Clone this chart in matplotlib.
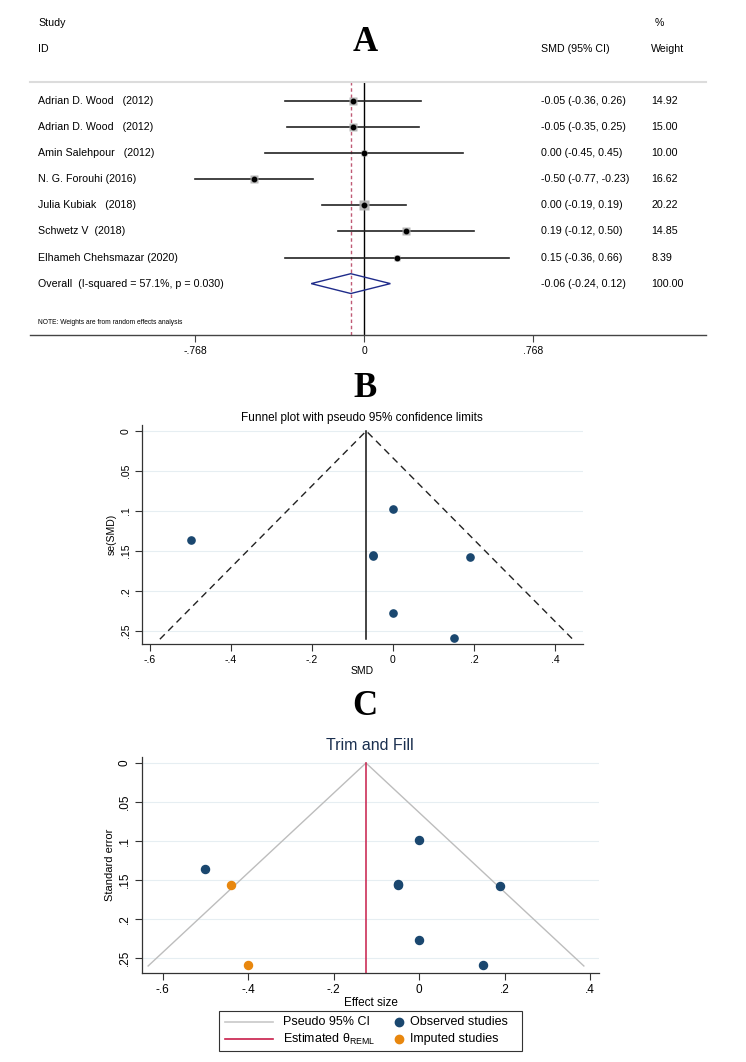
import matplotlib
matplotlib.use("Agg")
import matplotlib.pyplot as plt
import matplotlib.transforms as mtransforms
from matplotlib.lines import Line2D
from matplotlib.patches import Polygon, Rectangle

W, H = 746, 1062
plt.rcParams['font.family'] = ['Liberation Sans', 'DejaVu Sans']
plt.rcParams['mathtext.fontset'] = 'custom'
plt.rcParams['mathtext.rm'] = 'Liberation Sans'

# ---------------- data ----------------
studies = ["Adrian D. Wood   (2012)", "Adrian D. Wood   (2012)", "Amin Salehpour   (2012)",
           "N. G. Forouhi (2016)", "Julia Kubiak   (2018)", "Schwetz V  (2018)",
           "Elhameh Chehsmazar (2020)"]
smd = [-0.05, -0.05, 0.00, -0.50, 0.00, 0.19, 0.15]
ci_low = [-0.36, -0.35, -0.45, -0.77, -0.19, -0.12, -0.36]
ci_high = [0.26, 0.25, 0.45, -0.23, 0.19, 0.50, 0.66]
ci_text = ["-0.05 (-0.36, 0.26)", "-0.05 (-0.35, 0.25)", "0.00 (-0.45, 0.45)",
           "-0.50 (-0.77, -0.23)", "0.00 (-0.19, 0.19)", "0.19 (-0.12, 0.50)",
           "0.15 (-0.36, 0.66)"]
weights = [14.92, 15.00, 10.00, 16.62, 20.22, 14.85, 8.39]
weight_text = ["14.92", "15.00", "10.00", "16.62", "20.22", "14.85", "8.39"]
overall_est, overall_low, overall_high = -0.06, -0.24, 0.12
overall_label = "Overall  (I-squared = 57.1%, p = 0.030)"
overall_ci_text = "-0.06 (-0.24, 0.12)"
overall_weight_text = "100.00"
forest_ticks = [-0.768, 0.0, 0.768]
forest_ticklabels = ["-.768", "0", ".768"]

funnel_x = [-0.05, -0.05, 0.00, -0.50, 0.00, 0.19, 0.15]
funnel_se = [0.156, 0.155, 0.227, 0.136, 0.098, 0.157, 0.259]
funnel_pooled = -0.066
funnel_se_max = 0.26

imputed_x = [-0.44, -0.40]
imputed_se = [0.156, 0.259]
trimfill_theta = -0.124

se_ticks = [0, 0.05, 0.1, 0.15, 0.2, 0.25]
se_ticklabels = ["0", ".05", ".1", ".15", ".2", ".25"]
x_ticks = [-0.6, -0.4, -0.2, 0, 0.2, 0.4]
x_ticklabels = ["-.6", "-.4", "-.2", "0", ".2", ".4"]

legend_labels = ["Pseudo 95% CI", "Estimated θ$_{\\mathrm{REML}}$", "Observed studies", "Imputed studies"]

NAVY = "#1a476f"
ORANGE = "#e8870e"
CRIMSON = "#c81e4a"


def rect(l, t, r, b):
    return [l / W, 1 - b / H, (r - l) / W, (b - t) / H]


fig = plt.figure(figsize=(W / 100, H / 100), dpi=100)

# ---------------- Panel A: forest plot ----------------
axA = fig.add_axes(rect(30, 82, 706, 335))
axA.set_xlim((30 - 364) / 220, (706 - 364) / 220)
axA.set_ylim(8.97, -0.728)
for s in ['left', 'right']:
    axA.spines[s].set_visible(False)
axA.spines['top'].set_color('#dcdcdc')
axA.spines['top'].set_linewidth(1.5)
axA.spines['bottom'].set_color('#444444')
axA.spines['bottom'].set_linewidth(1.0)
axA.set_yticks([])
axA.set_xticks(forest_ticks)
axA.set_xticklabels(forest_ticklabels)
axA.tick_params(axis='x', labelsize=7.5, length=5, width=0.8, color='#444444', pad=3)

axA.axvline(0, color='black', lw=1.0, zorder=1)
axA.axvline(overall_est, color='#c05a75', lw=1.0, ls=(0, (2.5, 2)), zorder=1)

rows = list(range(len(studies)))
for i in rows:
    axA.plot([ci_low[i], ci_high[i]], [i, i], color='#222222', lw=1.2, zorder=2)
    axA.plot(smd[i], i, marker='s', ms=1.55 * weights[i] ** 0.5, color='#b0b0b0',
             mec='none', ls='none', zorder=3, alpha=0.9)
    axA.plot(smd[i], i, marker='o', ms=3.2, color='black', ls='none', zorder=4)

orow = len(studies)
diamond = Polygon([[overall_low, orow], [overall_est, orow - 0.38],
                   [overall_high, orow], [overall_est, orow + 0.38]],
                  closed=True, fill=False, edgecolor='#1f2b8a', lw=1.0, zorder=5)
axA.add_patch(diamond)

trA = mtransforms.blended_transform_factory(axA.transAxes, axA.transData)
xc_name, xc_ci, xc_w = (38 - 30) / 676, (541 - 30) / 676, (651 - 30) / 676
fs = 7.7
for i in rows:
    axA.text(xc_name, i, studies[i], transform=trA, fontsize=fs, va='center', ha='left')
    axA.text(xc_ci, i, ci_text[i], transform=trA, fontsize=fs, va='center', ha='left')
    axA.text(xc_w, i, weight_text[i], transform=trA, fontsize=fs, va='center', ha='left')
axA.text(xc_name, orow, overall_label, transform=trA, fontsize=fs, va='center', ha='left')
axA.text(xc_ci, orow, overall_ci_text, transform=trA, fontsize=fs, va='center', ha='left')
axA.text(xc_w, orow, overall_weight_text, transform=trA, fontsize=fs, va='center', ha='left')
axA.text(xc_name, 8.5, "NOTE: Weights are from random effects analysis", transform=trA,
         fontsize=4.8, va='center', ha='left')
axA.text(xc_name, -2.99, "Study", transform=trA, fontsize=fs, va='center', ha='left', clip_on=False)
axA.text(xc_name, -1.99, "ID", transform=trA, fontsize=fs, va='center', ha='left', clip_on=False)
axA.text(xc_ci, -1.99, "SMD (95% CI)", transform=trA, fontsize=fs, va='center', ha='left', clip_on=False)
axA.text((655 - 30) / 676, -2.99, "%", transform=trA, fontsize=fs, va='center', ha='left', clip_on=False)
axA.text(xc_w, -1.99, "Weight", transform=trA, fontsize=fs, va='center', ha='left', clip_on=False)

# panel letters
for letter, yb in [("A", 51), ("B", 397), ("C", 715)]:
    fig.text(365 / W, 1 - yb / H, letter, fontsize=25, fontweight='bold',
             family='Liberation Serif', ha='center', va='baseline')


def style_funnel(ax, tick_fs):
    for s in ['top', 'right']:
        ax.spines[s].set_visible(False)
    for s in ['left', 'bottom']:
        ax.spines[s].set_color('#333333')
        ax.spines[s].set_linewidth(0.9)
    ax.set_yticks(se_ticks)
    ax.set_yticklabels(se_ticklabels, rotation=90, va='center')
    ax.set_xticks(x_ticks)
    ax.set_xticklabels(x_ticklabels)
    ax.tick_params(labelsize=tick_fs, length=5, width=0.8, color='#333333', pad=3)
    ax.grid(axis='y', color='#e6eef2', lw=0.8)
    ax.set_axisbelow(True)


# ---------------- Panel B: funnel plot ----------------
axB = fig.add_axes(rect(142, 425, 583, 644))
axB.set_xlim((142 - 393) / 405, (583 - 393) / 405)
axB.set_ylim(0.266, -0.0075)
style_funnel(axB, 7.5)
axB.plot([funnel_pooled - 1.96 * funnel_se_max, funnel_pooled, funnel_pooled + 1.96 * funnel_se_max],
         [funnel_se_max, 0, funnel_se_max], color='#222222', lw=1.0, ls=(0, (5, 3.5)))
axB.plot([funnel_pooled, funnel_pooled], [0, funnel_se_max], color='#111111', lw=1.1)
axB.plot(funnel_x, funnel_se, 'o', color=NAVY, ms=5.2, zorder=5)
fig.text(362 / W, 1 - 418 / H, "Funnel plot with pseudo 95% confidence limits",
         fontsize=8.5, ha='center', va='center')
axB.set_xlabel("SMD", fontsize=7.5, labelpad=1)
axB.set_ylabel("se(SMD)", fontsize=7.5, labelpad=3)

# ---------------- Panel C: trim and fill ----------------
axC = fig.add_axes(rect(142, 757, 599, 973))
axC.set_xlim((142 - 419) / 427.5, (599 - 419) / 427.5)
axC.set_ylim(0.269, -0.0077)
style_funnel(axC, 8.5)
se_end = funnel_se_max
axC.plot([trimfill_theta - 1.96 * se_end, trimfill_theta, trimfill_theta + 1.96 * se_end],
         [se_end, 0, se_end], color='#bdbdbd', lw=1.0)
axC.plot([trimfill_theta, trimfill_theta], [0, 0.269], color=CRIMSON, lw=1.1)
axC.plot(funnel_x, funnel_se, 'o', color=NAVY, ms=5.8, zorder=5, clip_on=False)
axC.plot(imputed_x, imputed_se, 'o', color=ORANGE, ms=5.8, zorder=5, clip_on=False)
fig.text(370 / W, 1 - 745 / H, "Trim and Fill", fontsize=11.5, color='#1a2f4f',
         ha='center', va='center')
axC.set_xlabel("Effect size", fontsize=8.5, labelpad=1)
axC.set_ylabel("Standard error", fontsize=8, labelpad=3)

# ---------------- manual legend (figure pixel coordinates) ----------------
axL = fig.add_axes([0, 0, 1, 1], zorder=10)
axL.set_xlim(0, W)
axL.set_ylim(H, 0)
axL.axis('off')
axL.add_patch(Rectangle((219, 1011), 303, 40, fill=False, edgecolor='#333333', lw=0.8))
row_y = [1022, 1039]
axL.plot([225, 273], [row_y[0], row_y[0]], color='#c8c8c8', lw=1.2)
axL.plot([225, 273], [row_y[1], row_y[1]], color=CRIMSON, lw=1.2)
axL.plot([399], [row_y[0]], 'o', color=NAVY, ms=6)
axL.plot([399], [row_y[1]], 'o', color=ORANGE, ms=6)
axL.text(283, row_y[0], legend_labels[0], fontsize=9, va='center', ha='left')
axL.text(283, row_y[1], legend_labels[1], fontsize=9, va='center', ha='left')
axL.text(410, row_y[0], legend_labels[2], fontsize=9, va='center', ha='left')
axL.text(410, row_y[1], legend_labels[3], fontsize=9, va='center', ha='left')

fig.savefig("out.png", dpi=100)
